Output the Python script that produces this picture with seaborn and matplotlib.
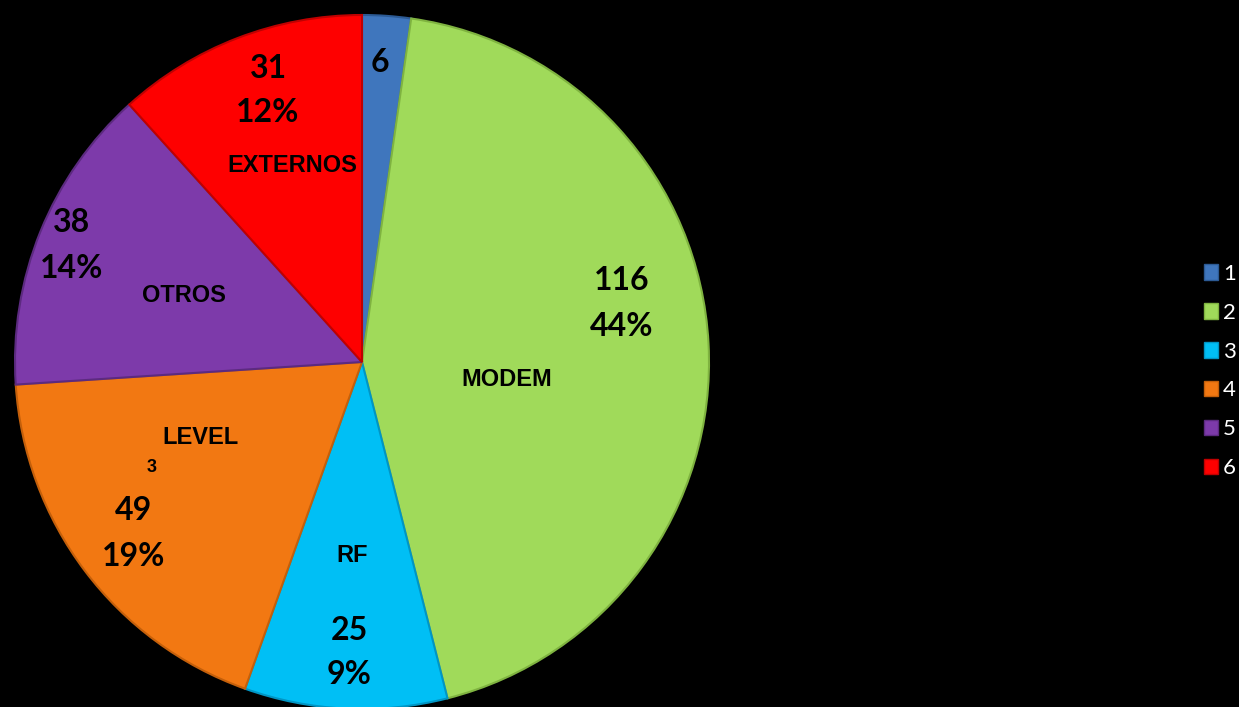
import seaborn as sns
import matplotlib.pyplot as plt
from matplotlib.patches import Patch

# Data
legend_ids = ['1', '2', '3', '4', '5', '6']
names = ['', 'MODEM', 'RF', 'LEVEL', 'OTROS', 'EXTERNOS']
values = [6, 116, 25, 49, 38, 31]
pct_labels = ['', '44%', '9%', '19%', '14%', '12%']
colors = ['#3f76bd', '#a0da5a', '#00bff5', '#f27812', '#7d3aaa', '#fe0000']
edges = ['#2c5a94', '#7fb340', '#0095c4', '#c45f0a', '#5c2a80', '#c00000']

sns.set_style('white')
plt.rcParams['font.family'] = ['Lato', 'DejaVu Sans']

fig = plt.figure(figsize=(12.39, 7.07), dpi=100, facecolor='black')
ax = fig.add_axes([0, 0, 1, 1])
ax.set_facecolor('black')

# pixel space, y measured from the bottom
H = 707
wedges, _ = ax.pie(values, colors=colors, startangle=90, counterclock=False,
                   center=(362, H - 362), radius=347,
                   wedgeprops=dict(linewidth=1.5))
for w, ec in zip(wedges, edges):
    w.set_edgecolor(ec)

ax.set_xlim(0, 1239)
ax.set_ylim(0, H)
ax.set_aspect('equal')
ax.axis('off')

num_kw = dict(ha='center', va='center', fontsize=23, fontweight='bold', color='black')
cat_kw = dict(ha='center', va='center', fontsize=17, fontweight='bold', color='black',
              family=['Liberation Sans'])

# value / percent labels (pixel positions)
val_pos = [(380, 63), (622, 280), (349, 630), (134, 511), (72, 222), (268, 68)]
pct_pos = [None, (622, 326), (349, 675), (134, 557), (72, 268), (268, 113)]
for v, p, vp, pp in zip(values, pct_labels, val_pos, pct_pos):
    ax.text(vp[0], H - vp[1], str(v), **num_kw)
    if pp:
        ax.text(pp[0], H - pp[1], p, **num_kw)

name_pos = [None, (507, 380), (352, 555), (200, 438), (184, 296), (292, 166)]
for n, np_ in zip(names, name_pos):
    if np_:
        ax.text(np_[0], H - np_[1], n, **cat_kw)
ax.text(152, H - 468, '3', ha='center', va='center', fontsize=13, fontweight='bold',
        color='black', family=['Liberation Sans'])

handles = [Patch(facecolor=c, edgecolor=e, linewidth=1) for c, e in zip(colors, edges)]
leg = fig.legend(handles, legend_ids, loc='center left', bbox_to_anchor=(1204 / 1239, 1 - 371 / H),
                 frameon=False, fontsize=16, handlelength=0.65, handleheight=0.7,
                 handletextpad=0.2, labelspacing=0.85, borderpad=0, borderaxespad=0)
for t in leg.get_texts():
    t.set_color('white')

fig.savefig('out.png', dpi=100, facecolor='black')
